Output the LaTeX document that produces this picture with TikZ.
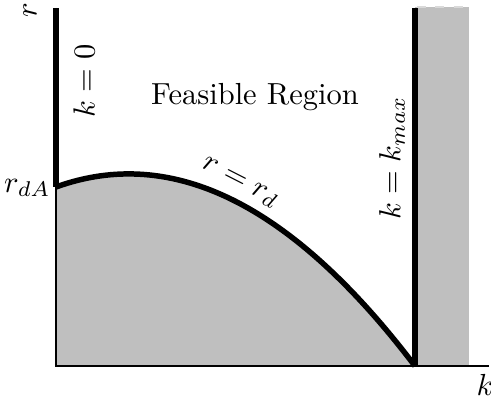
\documentclass[tikz,border=0pt]{standalone}
\begin{document}
\begin{tikzpicture}[x=0.328pt,y=-0.328pt,
  thickline/.style={line width=1.8pt},
  axisline/.style={line width=0.75pt},
  region/.style={fill=black!25},
  lbl/.style={inner sep=0pt}]
\useasboundingbox (0,0) rectangle (491,400);
\coordinate (O) at (56,366);
\coordinate (A) at (56,187);
\coordinate (Top) at (56,8);
\coordinate (M) at (415,366);
\coordinate (MT) at (415,8);
\coordinate (E) at (489,366);
\coordinate (C1) at (172,145);
\coordinate (C2) at (292,204);
\fill[region] (O) -- (A) .. controls (C1) and (C2) .. (M) -- cycle;
\fill[region] (415,7) rectangle (469,366);
\draw[white!85!black, dashed, line width=0.6pt] (417,7) -- (469,7);
\draw[axisline] (Top) -- (O) -- (E);
\draw[thickline] (A) -- (Top);
\draw[thickline] (A) .. controls (C1) and (C2) .. (M);
\draw[thickline] (M) -- (MT);
\node[lbl, rotate=90] (rlab) at (30,10) {$r$};
\node[lbl, rotate=90] (k0) at (84,81) {$k=0$};
\node[lbl] (feas) at (255,97) {Feasible Region};
\node[lbl, rotate=-27] (rd) at (240,183) {$r=r_d$};
\node[lbl, rotate=90] (kmax) at (392,158) {$k=k_{max}$};
\node[lbl, anchor=east] (rdA) at (51,188) {$r_{dA}$};
\node[lbl] (klab) at (485,385) {$k$};
\end{tikzpicture}
\end{document}
